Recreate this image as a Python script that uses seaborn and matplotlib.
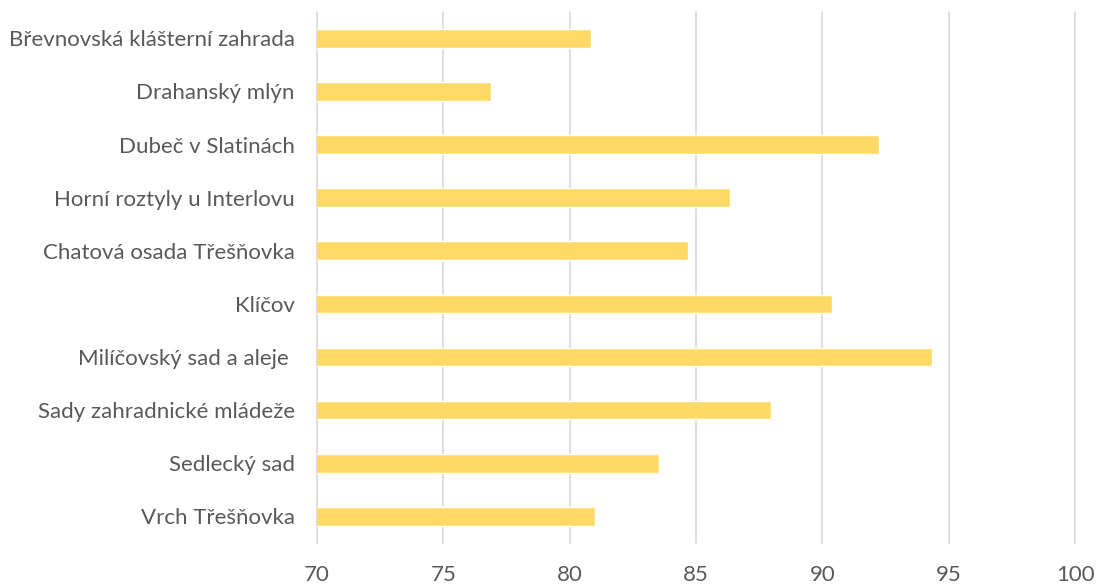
import matplotlib
matplotlib.use("Agg")
import matplotlib.pyplot as plt
import seaborn as sns
import pandas as pd

# Data
places = ["Břevnovská klášterní zahrada", "Drahanský mlýn", "Dubeč v Slatinách",
          "Horní roztyly u Interlovu", "Chatová osada Třešňovka", "Klíčov",
          "Milíčovský sad a aleje ", "Sady zahradnické mládeže", "Sedlecký sad",
          "Vrch Třešňovka"]
values = [80.85, 76.9, 92.25, 86.35, 84.7, 90.4, 94.35, 87.95, 83.55, 81.0]
x_ticks = [70, 75, 80, 85, 90, 95, 100]

df = pd.DataFrame({"place": places, "value": values})

sns.set_style("white")
plt.rcParams["font.family"] = ["Lato", "DejaVu Sans"]

fig = plt.figure(figsize=(10.97, 5.87), dpi=100)
ax = fig.add_axes([0.289, 0.075, 0.691, 0.905])

sns.barplot(data=df, x="value", y="place", orient="h", color="#FFD966",
            width=0.35, saturation=1, ax=ax)

ax.set_xlim(70, 100)
ax.set_xticks(x_ticks)
ax.xaxis.grid(True, color="#D9D9D9", linewidth=1.2)
for gl in ax.get_xgridlines():
    gl.set_clip_on(False)
ax.set_axisbelow(True)
for s in ax.spines.values():
    s.set_visible(False)
ax.set_xlabel("")
ax.set_ylabel("")
ax.tick_params(axis="both", length=0, labelsize=16, labelcolor="#595959")
ax.tick_params(axis="y", pad=16)
ax.tick_params(axis="x", pad=16)

fig.savefig("out.png", dpi=100)
